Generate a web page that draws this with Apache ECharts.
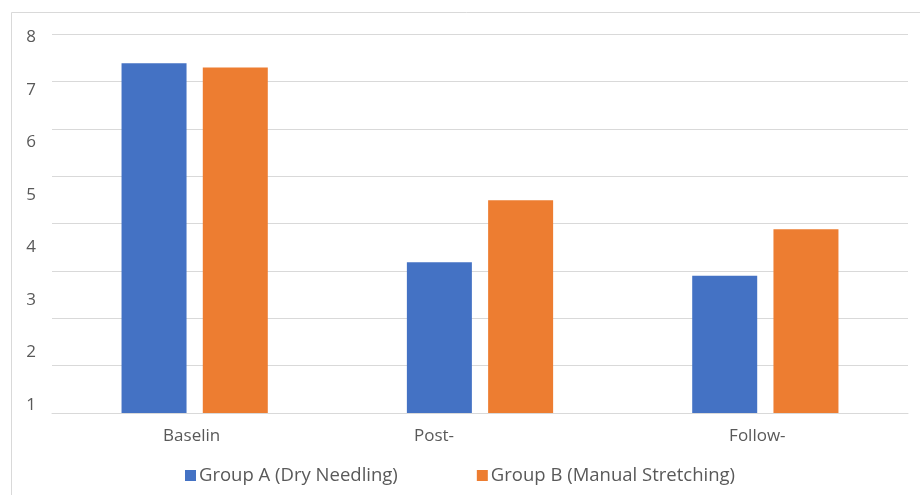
<!DOCTYPE html>
<html>
<head>
<meta charset="utf-8">
<title>Group A vs Group B</title>
<script src="https://cdn.jsdelivr.net/npm/echarts@6/dist/echarts.min.js"></script>
<style>
  html, body { margin: 0; padding: 0; background: #ffffff; }
  #chart { width: 920px; height: 495px; }
</style>
</head>
<body>
<div id="chart"></div>
<script>
// Time points and mean scores per treatment group
const categories = ['Baselin', 'Post-', 'Follow-'];
const seriesNames = ['Group A (Dry Needling)', 'Group B (Manual Stretching)'];
const groupA = [7.51, 3.72, 3.46];
const groupB = [7.43, 4.90, 4.35];
const yTickLabels = [1, 2, 3, 4, 5, 6, 7, 8];

const FONT = '"Open Sans", "Noto Sans", sans-serif';
const TEXT_GRAY = '#595959';
const GRID_GRAY = '#d9d9d9';
// right padding (px) nudging each category caption left of its slot centre
const captionNudge = [6, 92, 16];

const chart = echarts.init(document.getElementById('chart'), null, { renderer: 'canvas' });

chart.setOption({
  animation: false,
  backgroundColor: '#ffffff',
  color: ['#4472C4', '#ED7D31'],
  textStyle: { fontFamily: FONT },
  graphic: [{
    type: 'rect',
    silent: true,
    shape: { x: 11.5, y: 12.5, width: 960, height: 520 },
    style: { fill: 'none', stroke: GRID_GRAY, lineWidth: 1 }
  }],
  grid: { left: 52, right: 12, top: 34, bottom: 82, containLabel: false },
  legend: {
    data: seriesNames,
    left: 'center',
    top: 461,
    icon: 'rect',
    itemWidth: 11,
    itemHeight: 11,
    itemGap: 79,
    textStyle: { fontFamily: FONT, fontSize: 18.5, color: TEXT_GRAY, padding: [0, 0, 0, -2] }
  },
  xAxis: {
    type: 'category',
    data: categories.map((c, i) => ({
      value: c,
      textStyle: { padding: [0, captionNudge[i], 0, 0] }
    })),
    axisLine: { show: true, lineStyle: { color: GRID_GRAY, width: 1 } },
    axisTick: { show: false },
    axisLabel: { fontFamily: FONT, fontSize: 17, color: TEXT_GRAY, margin: 15 }
  },
  yAxis: [
    {
      // scale the bars and the printed tick labels are read against
      type: 'value',
      min: 0.848,
      max: 8.067,
      axisLine: { show: false },
      axisTick: { show: false },
      splitLine: { show: false },
      axisLabel: {
        customValues: yTickLabels,
        fontFamily: FONT,
        fontSize: 17,
        color: TEXT_GRAY,
        margin: 16
      }
    },
    {
      // horizontal gridlines
      type: 'value',
      position: 'left',
      min: 0,
      max: 8,
      interval: 1,
      axisLine: { show: false },
      axisTick: { show: false },
      axisLabel: { show: false },
      splitLine: { show: true, lineStyle: { color: GRID_GRAY, width: 1 } }
    }
  ],
  series: [
    {
      name: seriesNames[0],
      type: 'bar',
      yAxisIndex: 0,
      data: groupA,
      barWidth: 65,
      barGap: '25%',
      clip: true
    },
    {
      name: seriesNames[1],
      type: 'bar',
      yAxisIndex: 0,
      data: groupB,
      barWidth: 65,
      barGap: '25%',
      clip: true
    }
  ]
});
</script>
</body>
</html>
